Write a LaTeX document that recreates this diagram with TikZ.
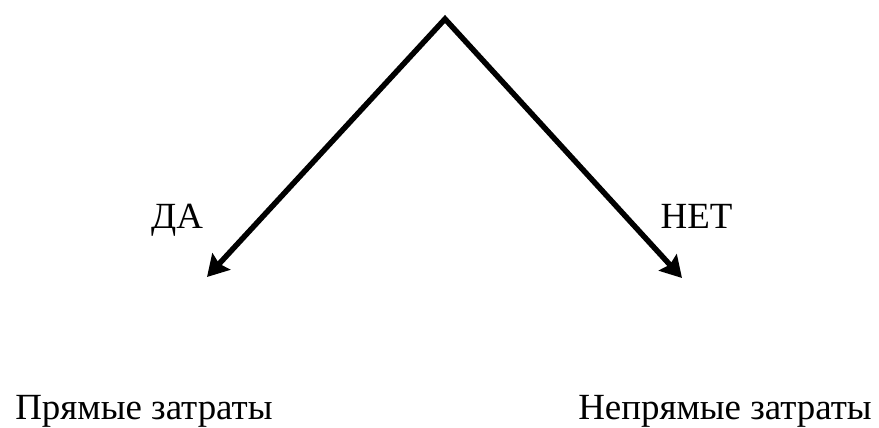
\documentclass[tikz,border=0pt]{standalone}
\usepackage{fontspec}
\setmainfont{Liberation Serif}
\usepackage{tikz}
\usetikzlibrary{arrows.meta, positioning}

\begin{document}
\begin{tikzpicture}[
    label/.style={inner sep=0pt, font=\fontsize{21}{25}\selectfont},
    arrow/.style={{Stealth[length=0.42cm, width=0.48cm, inset=0.06cm]}-{Stealth[length=0.42cm, width=0.48cm, inset=0.06cm]}, line width=0.11cm, line join=miter}
]
\useasboundingbox (0,0) rectangle (17.58,8.54);
\coordinate (top) at (8.90,8.16);
\coordinate (yesend) at (4.14,3.00);
\coordinate (noend) at (13.64,2.98);
\node[label, anchor=base] (yes) at (3.54,3.96) {ДА};
\node[label, anchor=base] (no) at (13.93,3.96) {НЕТ};
\node[label, anchor=base west] (direct) at (0.30,0.15) {Прямые затраты};
\node[label, anchor=base east] (indirect) at (17.44,0.15) {Непрямые затраты};

% both branches from the top in one path
\draw[arrow] (yesend) -- (top) -- (noend);
\end{tikzpicture}
\end{document}
